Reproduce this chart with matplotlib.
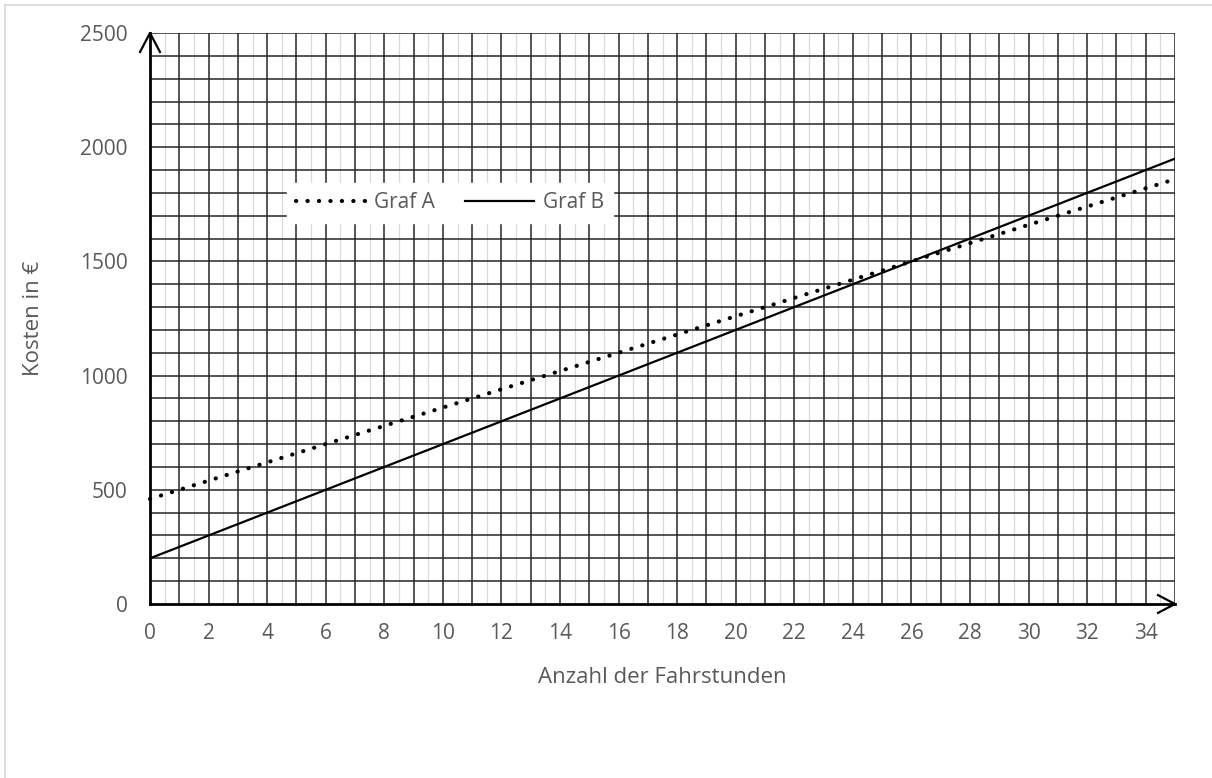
import matplotlib
matplotlib.use("Agg")
import matplotlib.pyplot as plt
from matplotlib.lines import Line2D
import numpy as np

hours = [0, 35]
graf_a = [460, 1860]
graf_b = [200, 1950]
x_ticks = list(range(0, 35, 2))
y_ticks = [0, 500, 1000, 1500, 2000, 2500]

plt.rcParams['font.family'] = ['Open Sans', 'DejaVu Sans']
gray = '#595959'

fig = plt.figure(figsize=(12.12, 7.78), dpi=100)
ax = fig.add_axes([150/1212, 1-604/778, (1175-150)/1212, (604-33)/778])

# grid
for xv in np.arange(0.5, 35, 1.0):
    ax.axvline(xv, color='#d9d9d9', lw=0.9, zorder=1)
for xv in np.arange(1, 36, 1):
    ax.axvline(xv, color='#262626', lw=1.1, zorder=2)
for yv in np.arange(100, 2501, 100):
    ax.axhline(yv, color='#262626', lw=1.1, zorder=2)

dot_style = (0, (0.05, 2.7))
ax.plot(hours, graf_a, color='black', lw=3.0, linestyle=dot_style,
        dash_capstyle='round', zorder=6, clip_on=False, label='Graf A')
ax.plot(hours, graf_b, color='black', lw=1.6, zorder=4, label='Graf B')

ax.set_xlim(0, 35)
ax.set_ylim(0, 2500)
ax.set_xticks(x_ticks)
ax.set_yticks(y_ticks)
ax.tick_params(length=0, labelsize=15, colors=gray)
ax.tick_params(axis='x', pad=14)
ax.tick_params(axis='y', pad=16)
for s in ['top', 'right']:
    ax.spines[s].set_visible(False)
ax.spines['left'].set_linewidth(2)
ax.spines['bottom'].set_linewidth(2)
ax.spines['left'].set_zorder(5)
ax.spines['bottom'].set_zorder(5)

ax.set_xlabel('Anzahl der Fahrstunden', fontsize=16, color=gray, labelpad=16)
ax.set_ylabel('Kosten in €', fontsize=16, color=gray, labelpad=26)

# arrows
ax.plot([-0.34, 0, 0.34], [2417, 2500, 2417], color='black', lw=1.6,
        clip_on=False, zorder=6)
ax.plot([34.42, 35, 34.42], [-39, 0, 39], color='black', lw=1.6,
        clip_on=False, zorder=6)

handles = [Line2D([], [], color='black', lw=3.0, linestyle=dot_style,
                  dash_capstyle='round'),
           Line2D([], [], color='black', lw=1.6)]
leg = ax.legend(handles, ['Graf A', 'Graf B'], loc='center',
                bbox_to_anchor=((450-150)/1025, (604-203)/571), ncol=2,
                frameon=True, fontsize=15, handlelength=3.3, columnspacing=1.45,
                handletextpad=0.43, borderpad=0.45, borderaxespad=0,
                fancybox=False)
leg.get_frame().set_facecolor('white')
leg.get_frame().set_edgecolor('white')
leg.get_frame().set_alpha(1)
leg.set_zorder(7)
for t in leg.get_texts():
    t.set_color(gray)

# chart-area border
fig.add_artist(Line2D([5/1212, 5/1212], [0, 1-5/778], color='#d9d9d9', lw=1.2))
fig.add_artist(Line2D([5/1212, 1], [1-5/778, 1-5/778], color='#d9d9d9', lw=1.2))

fig.savefig('out.png', dpi=100)
